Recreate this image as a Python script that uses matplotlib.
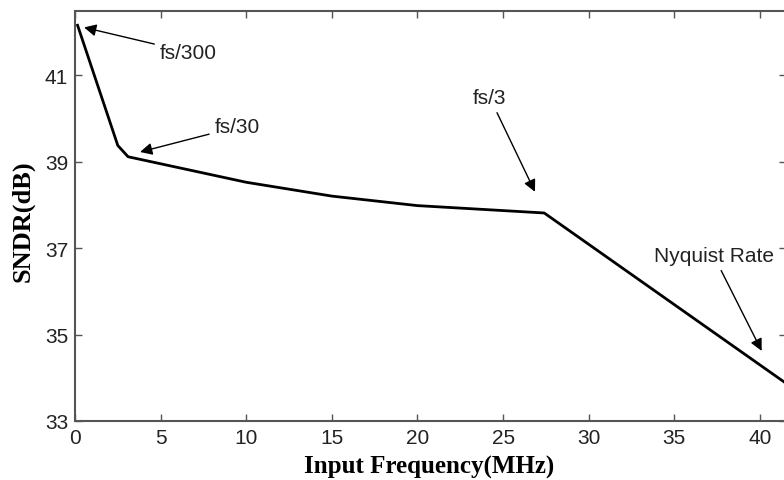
import numpy as np
import matplotlib.pyplot as plt

# SNDR versus input frequency
freq = [0.15, 2.5, 3.1, 10.0, 15.0, 20.0, 27.4, 41.6]
sndr = [42.15, 39.37, 39.11, 38.52, 38.2, 37.98, 37.81, 33.85]

xticks = [0, 5, 10, 15, 20, 25, 30, 35, 40]
yticks = [33, 35, 37, 39, 41]

# annotations: label, arrow tip (x, y), text position (x, y)
notes = [
    ("fs/300", (0.53, 42.1), (4.95, 41.53), "left"),
    ("fs/30", (3.8, 39.22), (8.15, 39.8), "left"),
    ("fs/3", (26.86, 38.3), (24.23, 40.47), "center"),
    ("Nyquist Rate", (40.1, 34.62), (37.3, 36.82), "center"),
]

sans = ["Liberation Sans", "DejaVu Sans"]

fig = plt.figure(figsize=(7.84, 4.81), dpi=100)
ax = fig.add_axes([75/784, 59/481, 711/784, 410/481])

ax.plot(freq, sndr, color="black", lw=2.0)

ax.set_xlim(0, 41.52)
ax.set_ylim(33, 42.48)
ax.set_xticks(xticks)
ax.set_yticks(yticks)
ax.tick_params(direction="in", top=True, right=True, length=5, width=1,
               color="#555555", labelsize=15, pad=5)
for lab in ax.get_xticklabels() + ax.get_yticklabels():
    lab.set_family(sans)
    lab.set_color("#222222")
for s in ax.spines.values():
    s.set_color("#555555")
    s.set_linewidth(1.5)

for txt, tip, pos, ha in notes:
    ax.annotate(txt, xy=tip, xytext=pos, ha=ha, va="center", fontsize=15,
                family=sans, color="#222222",
                arrowprops=dict(arrowstyle="-|>", color="black", lw=1.0,
                                mutation_scale=18, shrinkA=2, shrinkB=0))

ax.set_xlabel("Input Frequency(MHz)", fontsize=18, fontweight="bold",
              family="Liberation Serif")
ax.set_ylabel("SNDR(dB)", fontsize=19, fontweight="bold",
              family="Liberation Serif")
ax.xaxis.set_label_coords(0.498, -0.083)
ax.yaxis.set_label_coords(-0.057, 0.49)

fig.savefig("out.png", dpi=100)
